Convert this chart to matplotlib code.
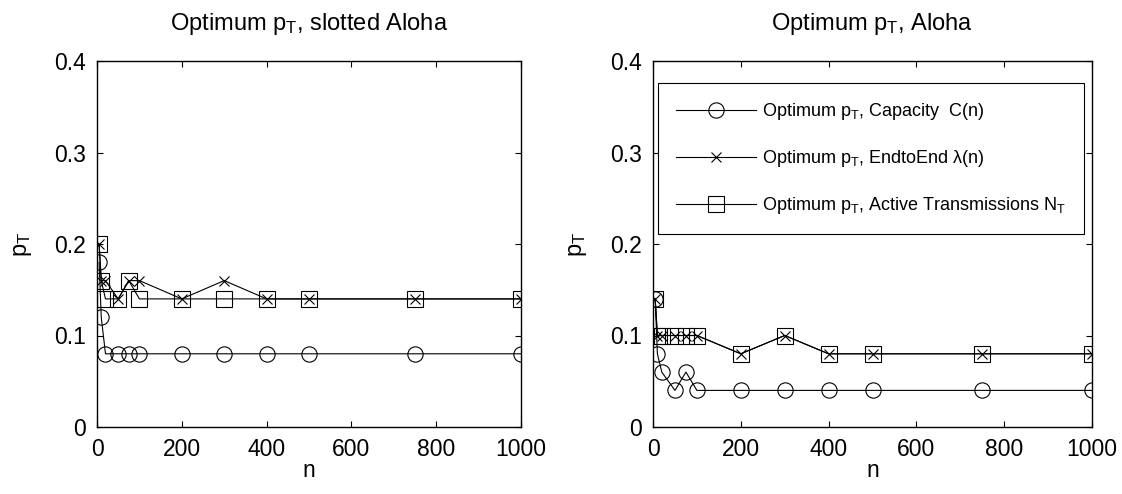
import matplotlib
matplotlib.use("Agg")
import matplotlib.pyplot as plt
from matplotlib import font_manager

# network sizes at which the optimum was computed
n_values = [5, 10, 20, 50, 75, 100, 200, 300, 400, 500, 750, 1000]

# slotted Aloha
cap_slotted = [0.18, 0.12, 0.08, 0.08, 0.08, 0.08, 0.08, 0.08, 0.08, 0.08, 0.08, 0.08]
e2e_slotted = [0.20, 0.16, 0.16, 0.14, 0.16, 0.16, 0.14, 0.16, 0.14, 0.14, 0.14, 0.14]
nt_slotted = [0.20, 0.16, 0.14, 0.14, 0.16, 0.14, 0.14, 0.14, 0.14, 0.14, 0.14, 0.14]

# pure Aloha
cap_aloha = [0.14, 0.08, 0.06, 0.04, 0.06, 0.04, 0.04, 0.04, 0.04, 0.04, 0.04, 0.04]
e2e_aloha = [0.14, 0.10, 0.10, 0.10, 0.10, 0.10, 0.08, 0.10, 0.08, 0.08, 0.08, 0.08]
nt_aloha = [0.14, 0.10, 0.10, 0.10, 0.10, 0.10, 0.08, 0.10, 0.08, 0.08, 0.08, 0.08]

titles = [r"Optimum $p_T$, slotted Aloha", r"Optimum $p_T$, Aloha"]
legend_labels = [r"Optimum $p_T$, Capacity  C(n)",
                 r"Optimum $p_T$, EndtoEnd $\lambda$(n)",
                 r"Optimum $p_T$, Active Transmissions $N_T$"]
x_ticks = [0, 200, 400, 600, 800, 1000]
y_ticks = [0, 0.1, 0.2, 0.3, 0.4]

# a condensed sans for the legend if one is installed
narrow = None
for f in font_manager.fontManager.ttflist:
    if f.name == "Liberation Sans Narrow" and f.style == "normal":
        narrow = {"family": f.name, "size": 15.5}
        break
if narrow is None:
    narrow = {"family": "Liberation Sans", "size": 13}

plt.rcParams["font.family"] = ["Liberation Sans", "DejaVu Sans"]
plt.rcParams["mathtext.fontset"] = "custom"
plt.rcParams["mathtext.rm"] = "Liberation Sans"
plt.rcParams["mathtext.it"] = "Liberation Sans"
plt.rcParams["mathtext.default"] = "regular"

fig = plt.figure(figsize=(11.22, 4.94), dpi=100)
ax1 = fig.add_axes([97 / 1122, 1 - 427 / 494, 424 / 1122, 366 / 494])
ax2 = fig.add_axes([653 / 1122, 1 - 427 / 494, 439 / 1122, 366 / 494])

line_kw = dict(color="black", linewidth=0.8, markerfacecolor="none",
               markeredgecolor="black", markeredgewidth=0.8)

for ax, cap, e2e, nt, title in [(ax1, cap_slotted, e2e_slotted, nt_slotted, titles[0]),
                                (ax2, cap_aloha, e2e_aloha, nt_aloha, titles[1])]:
    ax.plot(n_values, cap, marker="o", markersize=11, label=legend_labels[0], **line_kw)
    ax.plot(n_values, e2e, marker="x", markersize=6.5, label=legend_labels[1], **line_kw)
    ax.plot(n_values, nt, marker="s", markersize=11, label=legend_labels[2], **line_kw)

    ax.set_xlim(0, 1000)
    ax.set_ylim(0, 0.4)
    ax.set_xticks(x_ticks)
    ax.set_yticks(y_ticks)
    ax.set_yticklabels(["0", "0.1", "0.2", "0.3", "0.4"])
    ax.tick_params(direction="in", top=True, right=True, length=4, width=0.8,
                   labelsize=16.5, pad=8)
    for s in ax.spines.values():
        s.set_linewidth(1.0)

    ax.set_title(title, fontsize=17, y=1.10, va="center", pad=0)
    ax.set_xlabel("n", fontsize=16.5, va="center")
    ax.xaxis.set_label_coords(0.5, -0.12)
    ax.set_ylabel(r"$p_T$", fontsize=17, va="center")

ax1.yaxis.set_label_coords(-0.175, 0.5)
ax2.yaxis.set_label_coords(-0.171, 0.5)

leg = ax2.legend(loc="upper right", bbox_to_anchor=(1084 / 1122, 1 - 83 / 494),
                 bbox_transform=fig.transFigure, borderaxespad=0,
                 prop=narrow, handlelength=4.4, handletextpad=0.35,
                 labelspacing=1.45, borderpad=1.0,
                 fancybox=False, framealpha=1, edgecolor="black")
leg.get_frame().set_linewidth(0.8)

fig.savefig("out.png", dpi=100)
